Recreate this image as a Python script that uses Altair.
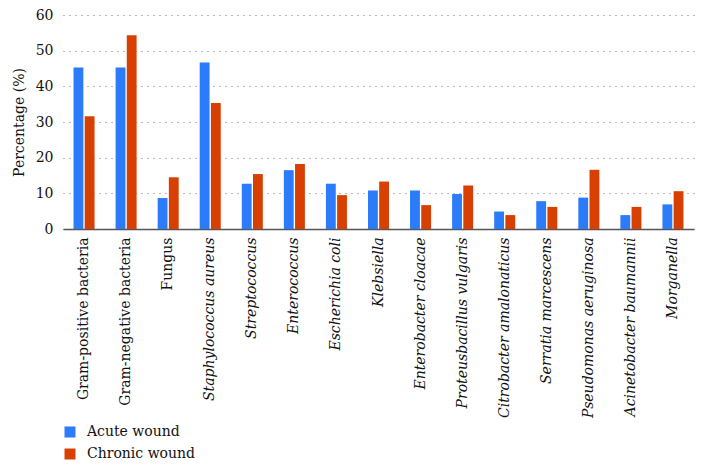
import altair as alt
import pandas as pd

categories = [
    "Gram-positive bacteria", "Gram-negative bacteria", "Fungus",
    "Staphylococcus aureus", "Streptococcus", "Enterococcus", "Escherichia coli",
    "Klebsiella", "Enterobacter cloacae", "Proteusbacillus vulgaris",
    "Citrobacter amalonaticus", "Serratia marcescens", "Pseudomonas aeruginosa",
    "Acinetobacter baumannii", "Morganella",
]
acute = [45.3, 45.3, 8.7, 46.7, 12.7, 16.5, 12.7, 10.8, 10.8, 9.8, 4.9, 7.8, 8.8, 3.9, 6.9]
chronic = [31.6, 54.3, 14.5, 35.3, 15.4, 18.2, 9.5, 13.3, 6.7, 12.2, 3.9, 6.2, 16.6, 6.2, 10.6]
series = ["Acute wound", "Chronic wound"]
colors = ["#2B7BFA", "#D83F02"]
y_ticks = [0, 10, 20, 30, 40, 50, 60]
non_italic = ["Gram-positive bacteria", "Gram-negative bacteria", "Fungus"]

rows = []
for c, a, ch in zip(categories, acute, chronic):
    rows.append({"category": c, "series": series[0], "value": a})
    rows.append({"category": c, "series": series[1], "value": ch})
df = pd.DataFrame(rows)

FONT = "DejaVu Serif"
italic_test = "indexof(" + str(non_italic) + ", datum.value) >= 0"

chart = alt.Chart(df).mark_bar().encode(
    x=alt.X(
        "category:N", sort=categories, title=None,
        scale=alt.Scale(paddingInner=0.5, paddingOuter=0.25),
        axis=alt.Axis(
            labelAngle=-90, labelFont=FONT, labelFontSize=14, labelColor="#111",
            ticks=False, labelPadding=8, domainColor="#555", domainWidth=1.5,
            labelLimit=300,
            labelFontStyle={"condition": {"test": italic_test, "value": "normal"}, "value": "italic"},
        ),
    ),
    xOffset=alt.XOffset("series:N", sort=series, scale=alt.Scale(paddingInner=0.12)),
    y=alt.Y(
        "value:Q", scale=alt.Scale(domain=[0, 60], nice=False),
        axis=alt.Axis(
            values=y_ticks, title="Percentage (%)", domain=False, ticks=False,
            labelPadding=10, labelFont=FONT, labelFontSize=14, labelColor="#111",
            gridDash=[1, 5], gridColor="#777", gridWidth=1.2,
            titleFont=FONT, titleFontSize=14, titleFontWeight="normal", titleColor="#111",
            titleX=-44, titleY=107, titleAngle=-90, titleBaseline="middle", titleAlign="center",
        ),
    ),
    color=alt.Color(
        "series:N", sort=series,
        scale=alt.Scale(domain=series, range=colors),
        legend=alt.Legend(
            title=None, orient="none", legendX=0, legendY=410,
            symbolType="square", symbolSize=121, symbolStrokeWidth=0, symbolOpacity=1,
            labelFont=FONT, labelFontSize=14, labelColor="#111", labelOffset=10, rowPadding=8,
        ),
    ),
).properties(
    width=631, height=214,
    autosize=alt.AutoSizeParams(type="none"),
    padding={"left": 55, "top": 7, "right": 2, "bottom": 233},
).configure_view(stroke=None)

chart.save("out.html", embed_options={"renderer": "svg", "actions": False})
